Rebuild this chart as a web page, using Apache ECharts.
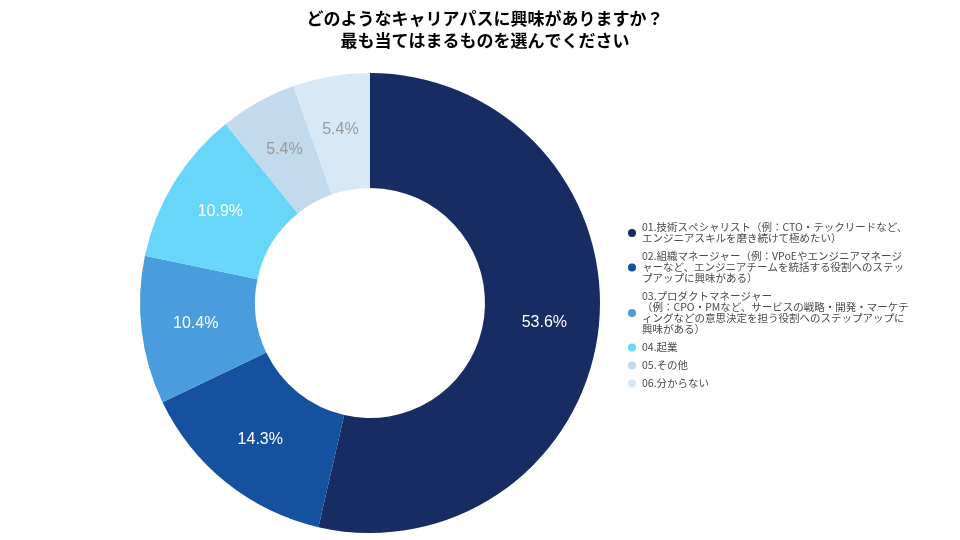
<!DOCTYPE html>
<html>
<head>
<meta charset="utf-8">
<script src="https://cdn.jsdelivr.net/npm/echarts@6/dist/echarts.min.js"></script>
<style>
    html, body { margin: 0; padding: 0; background: #fff; }
    #chart { width: 960px; height: 540px; }
</style>
</head>
<body>
<div id="chart"></div>
<script>
// キャリアパス希望の回答分布（％）
const categories = [
    "01.技術スペシャリスト（例：CTO・テックリードなど、\nエンジニアスキルを磨き続けて極めたい）",
    "02.組織マネージャー（例：VPoEやエンジニアマネージ\nャーなど、エンジニアチームを統括する役割へのステッ\nプアップに興味がある）",
    "03.プロダクトマネージャー\n（例：CPO・PMなど、サービスの戦略・開発・マーケテ\nィングなどの意思決定を担う役割へのステップアップに\n興味がある）",
    "04.起業",
    "05.その他",
    "06.分からない"
];
const values = [53.6, 14.3, 10.4, 10.9, 5.4, 5.4];
const colors = ["#172c62", "#15519f", "#4a9ddd", "#67d6f8", "#c3d9ec", "#d7e8f6"];
const labelColors = ["#ffffff", "#ffffff", "#ffffff", "#ffffff", "#9a9a9a", "#9a9a9a"];

const chart = echarts.init(document.getElementById("chart"));
chart.setOption({
    animation: false,
    title: {
        text: "どのようなキャリアパスに興味がありますか？\n最も当てはまるものを選んでください",
        left: 480,
        textAlign: "center",
        top: 3,
        textStyle: {
            fontFamily: "Noto Sans CJK JP",
            fontSize: 17,
            fontWeight: "bold",
            color: "#000",
            lineHeight: 22
        }
    },
    legend: {
        orient: "vertical",
        left: 623,
        top: 217,
        icon: "circle",
        itemWidth: 10,
        itemHeight: 8,
        itemGap: 7,
        textStyle: {
            fontFamily: "Noto Sans CJK JP",
            fontSize: 10.5,
            lineHeight: 11,
            color: "#4a4a4a"
        }
    },
    series: [{
        type: "pie",
        center: [370, 303],
        radius: [115, 230],
        startAngle: 90,
        clockwise: true,
        emphasis: { disabled: true },
        labelLine: { show: false },
        label: {
            position: "inside",
            fontFamily: "Liberation Sans",
            fontSize: 16,
            formatter: p => p.value.toFixed(1) + "%"
        },
        data: categories.map((name, i) => ({
            name,
            value: values[i],
            itemStyle: { color: colors[i] },
            label: { color: labelColors[i] }
        }))
    }]
});
</script>
</body>
</html>
